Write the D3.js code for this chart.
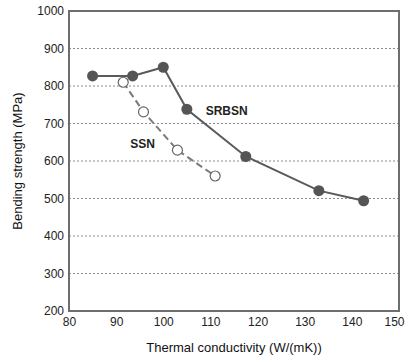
<!DOCTYPE html>
<html>
<head>
<meta charset="utf-8">
<script src="https://cdn.jsdelivr.net/npm/d3@7"></script>
<style>
  body { margin: 0; background: #fff; }
  text { font-family: "Liberation Sans", Arial, sans-serif; }
</style>
</head>
<body>
<svg width="405" height="361"></svg>
<script>
// data
var srbsnX = [85, 93.5, 100, 105, 117.5, 133, 142.5],
    srbsnY = [827, 827, 850, 738, 612, 521, 494];
var ssnX = [91.5, 95.8, 103, 111],
    ssnY = [810, 731, 629, 560];
var xTicks = [80, 90, 100, 110, 120, 130, 140, 150],
    yTicks = [200, 300, 400, 500, 600, 700, 800, 900, 1000];

var svg = d3.select("svg"),
    margin = {top: 11, right: 6, bottom: 50, left: 69},
    width = 405 - margin.left - margin.right,
    height = 361 - margin.top - margin.bottom,
    g = svg.append("g").attr("transform", "translate(" + margin.left + "," + margin.top + ")");

var xScale = d3.scaleLinear().domain([80, 150]).range([0, width]),
    yScale = d3.scaleLinear().domain([200, 1000]).range([height, 0]);

// dotted grid
g.selectAll(".grid")
    .data(yTicks.slice(1, -1))
    .enter().append("line")
    .attr("class", "grid")
    .attr("x1", 0).attr("x2", width)
    .attr("y1", function (d) { return yScale(d); })
    .attr("y2", function (d) { return yScale(d); })
    .attr("stroke", "#8a8a8a")
    .attr("stroke-width", 1)
    .attr("stroke-dasharray", "2,2");

// frame
g.append("rect")
    .attr("width", width).attr("height", height)
    .attr("fill", "none")
    .attr("stroke", "#6e6e6e")
    .attr("stroke-width", 2);

var xAxis = d3.axisBottom(xScale).tickValues(xTicks).tickFormat(d3.format("d")).tickSize(0).tickPadding(6);
g.append("g")
    .attr("transform", "translate(0," + height + ")")
    .call(xAxis)
    .call(function (a) { a.select(".domain").remove(); })
    .selectAll("text")
    .style("font-size", "12px").attr("fill", "#222")
    // keep the last label inside the window
    .attr("dx", function (d) { return d === 150 ? -5 : 0; });

var yAxis = d3.axisLeft(yScale).tickValues(yTicks).tickFormat(d3.format("d")).tickSize(0).tickPadding(5);
g.append("g")
    .call(yAxis)
    .call(function (a) { a.select(".domain").remove(); })
    .selectAll("text")
    .style("font-size", "12px").attr("fill", "#222");

// axis titles
svg.append("text")
    .attr("x", margin.left + width / 2)
    .attr("y", 352)
    .attr("text-anchor", "middle")
    .style("font-size", "13px")
    .attr("fill", "#111")
    .text("Thermal conductivity (W/(mK))");

svg.append("text")
    .attr("transform", "translate(22," + (margin.top + height / 2) + ") rotate(-90)")
    .attr("text-anchor", "middle")
    .style("font-size", "13px")
    .attr("fill", "#111")
    .text("Bending strength (MPa)");

var line = d3.line()
    .x(function (d) { return xScale(d.x); })
    .y(function (d) { return yScale(d.y); });

var srbsn = srbsnX.map(function (x, i) { return {x: x, y: srbsnY[i]}; }),
    ssn = ssnX.map(function (x, i) { return {x: x, y: ssnY[i]}; });

g.append("path")
    .attr("d", line(ssn))
    .attr("fill", "none")
    .attr("stroke", "#7a7a7a")
    .attr("stroke-width", 2)
    .attr("stroke-dasharray", "7,4");

g.append("path")
    .attr("d", line(srbsn))
    .attr("fill", "none")
    .attr("stroke", "#5a5a5a")
    .attr("stroke-width", 2);

g.selectAll(".srbsn")
    .data(srbsn)
    .enter().append("circle")
    .attr("cx", function (d) { return xScale(d.x); })
    .attr("cy", function (d) { return yScale(d.y); })
    .attr("r", 5.5)
    .attr("fill", "#555");

g.selectAll(".ssn")
    .data(ssn)
    .enter().append("circle")
    .attr("cx", function (d) { return xScale(d.x); })
    .attr("cy", function (d) { return yScale(d.y); })
    .attr("r", 5)
    .attr("fill", "#fff")
    .attr("stroke", "#666")
    .attr("stroke-width", 1.2);

// series labels
g.append("text")
    .attr("x", xScale(109)).attr("y", yScale(724))
    .style("font-size", "12px").style("font-weight", "bold")
    .attr("fill", "#222")
    .text("SRBSN");

g.append("text")
    .attr("x", xScale(93)).attr("y", yScale(636))
    .style("font-size", "12px").style("font-weight", "bold")
    .attr("fill", "#222")
    .text("SSN");
</script>
</body>
</html>
